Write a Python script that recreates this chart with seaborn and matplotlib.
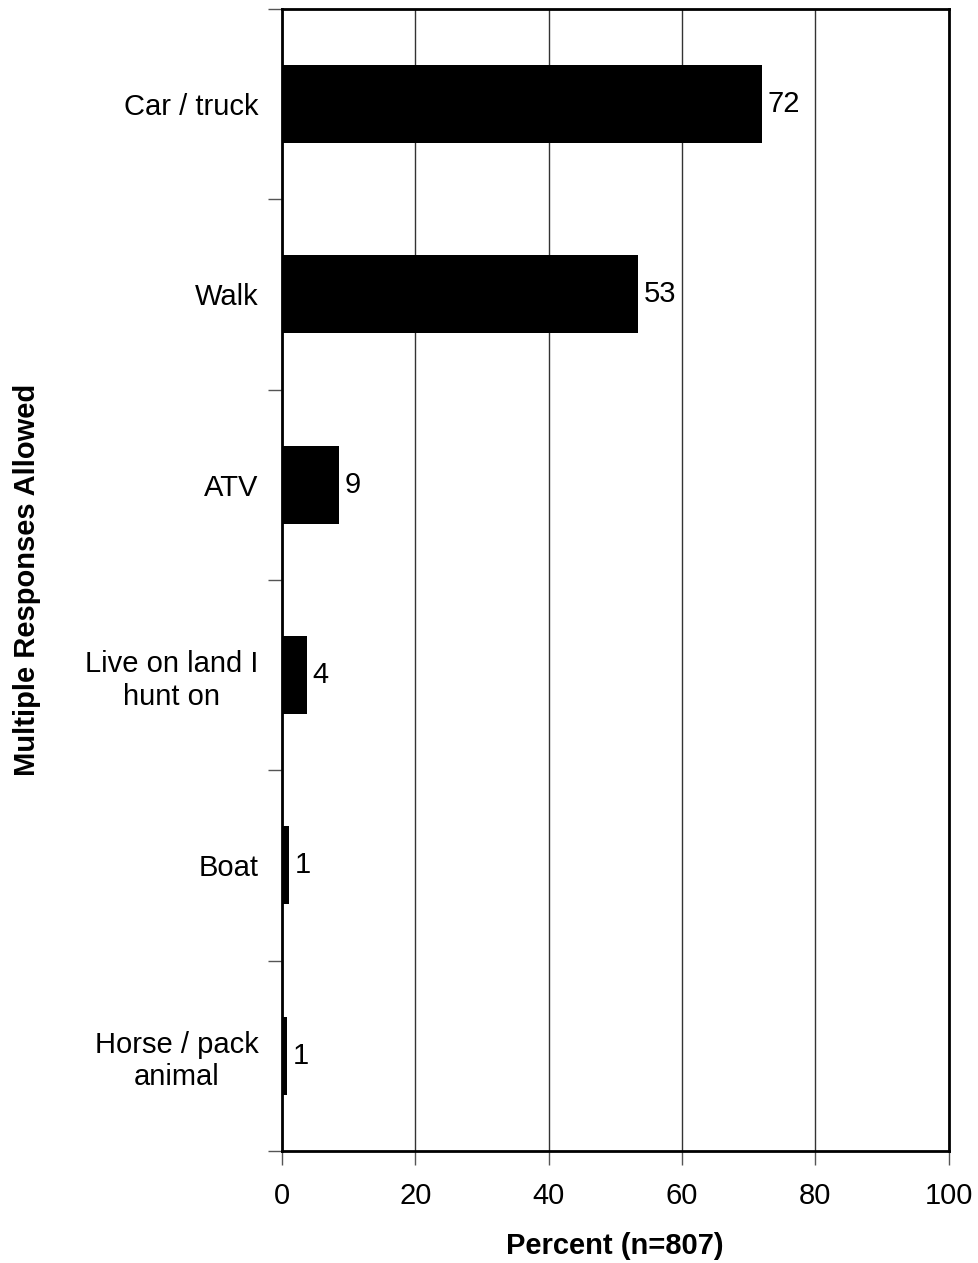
import numpy as np
import pandas as pd
import matplotlib
matplotlib.use('Agg')
import matplotlib.pyplot as plt
from matplotlib.ticker import FixedLocator
import seaborn as sns

# Chart data
categories = ['Car / truck', 'Walk', 'ATV', 'Live on land I\nhunt on', 'Boat', 'Horse / pack\nanimal']
percent = [72.0, 53.4, 8.6, 3.8, 1.1, 0.8]
x_ticks = [0, 20, 40, 60, 80, 100]

df = pd.DataFrame({'category': categories, 'percent': percent})

sns.set_style('white')
plt.rcParams['font.family'] = ['Liberation Sans', 'DejaVu Sans']
plt.rcParams['text.color'] = 'black'
plt.rcParams['axes.labelcolor'] = 'black'
plt.rcParams['xtick.labelcolor'] = 'black'
plt.rcParams['ytick.labelcolor'] = 'black'

fs = 21

fig = plt.figure(figsize=(9.79, 12.63), dpi=100)
ax = fig.add_axes([0.288, 0.0887, 0.681, 0.9042])

sns.barplot(data=df, x='percent', y='category', orient='h', color='black',
            width=0.41, saturation=1, linewidth=0, ax=ax, zorder=3)

# value labels
for i, v in enumerate(percent):
    ax.text(v + 0.8, i, f'{round(v):d}', va='center', ha='left', fontsize=fs, color='black')

ax.set_xlim(0, 100)
ax.set_ylim(len(categories) - 0.5, -0.5)
ax.set_xticks(x_ticks)
ax.set_xticklabels([str(t) for t in x_ticks], fontsize=fs)
ax.xaxis.grid(True, color='#333333', linewidth=1.0, zorder=0)
ax.yaxis.grid(False)

# category labels centred, ticks between categories
ax.set_yticks(range(len(categories)))
ax.set_yticklabels(categories, fontsize=fs, multialignment='center')
ax.yaxis.set_minor_locator(FixedLocator(np.arange(-0.5, len(categories), 1.0)))
ax.tick_params(axis='y', which='major', length=0, pad=17)
ax.tick_params(axis='y', which='minor', length=10, width=1, color='#555555', direction='out', left=True)
ax.tick_params(axis='x', which='major', length=10, width=1, color='#555555', direction='out', pad=12, bottom=True)

for s in ax.spines.values():
    s.set_color('black')
    s.set_linewidth(2)
    s.set_visible(True)

ax.set_xlabel('Percent (n=807)', fontsize=fs, fontweight='bold', labelpad=16)
ax.set_ylabel('Multiple Responses Allowed', fontsize=fs, fontweight='bold')
ax.yaxis.set_label_coords(-0.362, 0.5)

fig.savefig('out.png', dpi=100, facecolor='white')
